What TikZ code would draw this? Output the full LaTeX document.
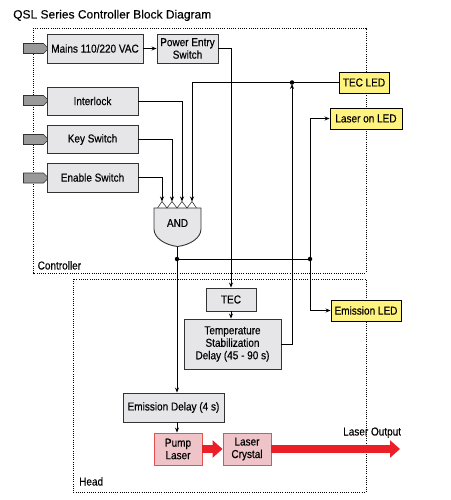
\documentclass[tikz,border=0pt]{standalone}
\usepackage{fontspec}
\setmainfont[FakeStretch=0.87,FakeBold=0.3]{Liberation Sans}
\newfontfamily\titlefont[FakeBold=0.15]{Liberation Sans}
\usetikzlibrary{arrows.meta,shapes.symbols}
\definecolor{boxfill}{RGB}{230,230,232}
\definecolor{boxline}{RGB}{51,51,51}
\definecolor{ledfill}{RGB}{255,243,128}
\definecolor{pinkfill}{RGB}{239,196,201}
\definecolor{pinkline}{RGB}{232,80,80}
\definecolor{laserred}{RGB}{236,30,40}
\definecolor{inarrowfill}{RGB}{153,153,153}
\begin{document}
\begin{tikzpicture}[x=1pt,y=-1pt,
 blk/.style={draw=boxline,fill=boxfill,line width=0.9pt,inner sep=0pt,align=center,font=\fontsize{11.5}{12.5}\selectfont},
 led/.style={blk,fill=ledfill,draw=black},
 pinkbox/.style={blk,fill=pinkfill,draw=pinkline},
 conn/.style={line width=0.8pt,draw=black},
 arr/.style={conn,-{Stealth[length=5pt,width=4pt]}},
 jdot/.style={circle,fill=black,inner sep=0pt,minimum size=4.5pt},
 inarrow/.style={signal,signal to=east,draw=boxline,fill=inarrowfill,line width=0.7pt,minimum width=25pt,minimum height=10pt,inner sep=0pt},
 region/.style={draw=black,line width=0.9pt,dash pattern=on 1pt off 1.2pt},
 lbl/.style={font=\fontsize{11.5}{12.5}\selectfont,inner sep=0pt},
 redarr/.style={draw=laserred,line width=7.5pt,-{Triangle[length=10pt,width=17pt]}}
]
\useasboundingbox (0,0) rectangle (450,500);
\node[anchor=base west,inner sep=0pt,font=\titlefont\fontsize{12}{14}\selectfont] (title) at (13,18.5) {QSL Series Controller Block Diagram};
% regions
\draw[region] (33,28) rectangle (366,273);
\draw[region] (73,279) rectangle (366,492);
\node[lbl,anchor=base west] (ctrllbl) at (37.5,269.5) {Controller};
\node[lbl,anchor=base west] (headlbl) at (79,485.5) {Head};
% input arrows
\node[inarrow] (inA) at (33.5,48.5) {};
\node[inarrow] (inB) at (33.5,100.5) {};
\node[inarrow] (inC) at (33.5,139.5) {};
\node[inarrow] (inD) at (33.5,178) {};
% controller boxes
\node[blk,minimum width=96pt,minimum height=29pt] (mains) at (95,48.5) {Mains 110/220 VAC};
\node[blk,minimum width=61pt,minimum height=29pt] (pes) at (187.5,48.5) {Power Entry\\Switch};
\node[blk,minimum width=91pt,minimum height=28pt] (intl) at (92.5,101) {Interlock};
\node[blk,minimum width=91pt,minimum height=28pt] (key) at (92.5,139.5) {Key Switch};
\node[blk,minimum width=91pt,minimum height=29pt] (enbl) at (92.5,177.5) {Enable Switch};
% gate
\draw[draw=boxline,fill=boxfill,line width=0.9pt] (154,208) -- (201,208) -- (201,229) .. controls (201,238) and (190,245) .. (177.5,246.5) .. controls (165,245) and (154,238) .. (154,229) -- cycle;
\node[lbl] (and) at (177.5,223) {AND};
\draw[draw=boxline,line width=0.6pt] (157.5,208) -- (162,201.5) -- (167,208) -- (172,201.5) -- (177,208) -- (182,201.5) -- (187,208) -- (192,201.5) -- (196.5,208);
\coordinate (g1) at (162,201.5);
\coordinate (g2) at (172,201.5);
\coordinate (g3) at (182,201.5);
\coordinate (g4) at (192,201.5);
\coordinate (gout) at (177,246.5);
% LEDs
\node[led,minimum width=50pt,minimum height=21pt] (tecled) at (364,82.5) {TEC LED};
\node[led,minimum width=72pt,minimum height=21pt] (laseron) at (366,118.5) {Laser on LED};
\node[led,minimum width=70pt,minimum height=21pt] (emled) at (366,310.5) {Emission LED};
% head boxes
\node[blk,minimum width=50pt,minimum height=23pt] (tec) at (231,299.5) {TEC};
\node[blk,minimum width=97pt,minimum height=50pt] (temp) at (232.5,344) {Temperature\\Stabilization\\Delay (45 - 90 s)};
\node[blk,minimum width=101pt,minimum height=29pt] (emd) at (173.5,407.5) {Emission Delay (4 s)};
\node[pinkbox,minimum width=48pt,minimum height=32pt] (pump) at (178,449) {Pump\\Laser};
\node[pinkbox,minimum width=48pt,minimum height=32pt] (crystal) at (247,449) {Laser\\Crystal};
\node[lbl,anchor=base west] (outlbl) at (343,435.5) {Laser Output};
\coordinate (out) at (400,449);
% junctions
\node[jdot] (d1) at (292,82.5) {};
\node[jdot] (d2) at (177,259) {};
\node[jdot] (d3) at (310,259) {};
% connectors
\draw[arr] (mains) -- (pes);
\draw[arr] (pes.east) -| (tec.north);
\draw[arr] (tec.south) -- (tec.south |- temp.north);
\draw[arr,shorten >=1.5pt] (temp.east) -| (d1.center);
\draw[arr] (tecled.west) -| (g4);
\draw[arr] (intl.east) -| (g3);
\draw[arr] (key.east) -| (g2);
\draw[arr] (enbl.east) -| (g1);
\draw[conn] (gout) -- (d2.center);
\draw[arr] (d2.center) -- (d2 |- emd.north);
\draw[conn] (d2.center) -- (d3.center);
\draw[arr] (d3.center) |- (laseron.west);
\draw[arr] (d3.center) |- (emled.west);
\draw[arr] (d2 |- emd.south) -- (d2 |- pump.north);
\draw[redarr] (pump.east) -- (crystal.west);
\draw[redarr] (crystal.east) -- (out);
\end{tikzpicture}
\end{document}
